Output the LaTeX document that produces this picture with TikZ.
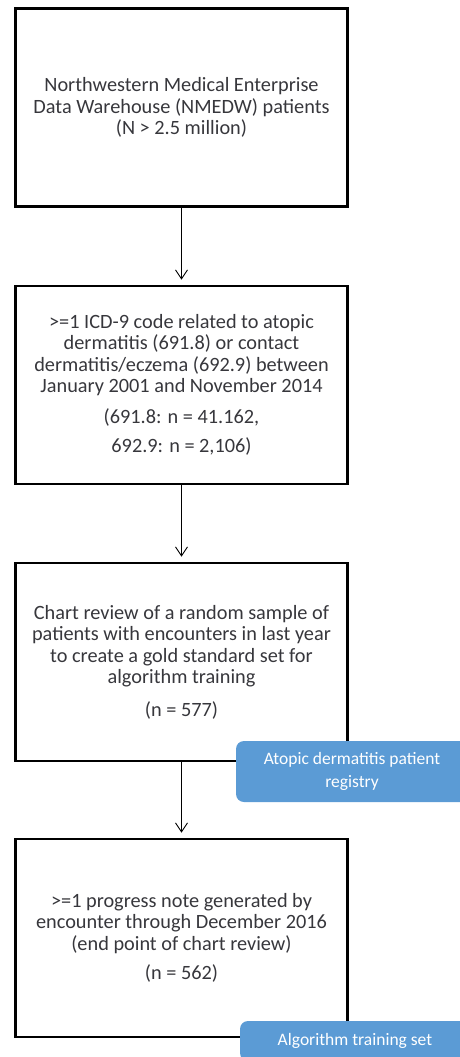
\documentclass[tikz,border=0pt]{standalone}
\usepackage{fontspec}
\setmainfont{Carlito}
\usepackage{tikz}
\usetikzlibrary{arrows.meta}
\definecolor{txtgray}{RGB}{55,55,60}
\definecolor{calloutblue}{RGB}{91,155,213}

\begin{document}
\begin{tikzpicture}[x=1pt,y=-1pt,
    stagebox/.style={draw=black, line width=2.7pt, minimum width=332pt, minimum height=198pt,
        align=center, text=txtgray, font=\fontsize{20.3}{21.5}\selectfont, inner sep=0pt},
    callout/.style={fill=calloutblue, rounded corners=8pt, align=center, text=white,
        font=\fontsize{17.5}{23}\selectfont, inner sep=0pt},
    flow/.style={-{Straight Barb[length=9pt,width=12pt]}, line width=0.9pt, shorten >=5pt}]
    \useasboundingbox (0,0) rectangle (459,1057);

    \node[stagebox] (nmedw) at (181.5,107.5) {Northwestern Medical Enterprise\\Data Warehouse (NMEDW) patients\\(N > 2.5 million)};
    \node[stagebox] (icd) at (181.5,385) {>=1 ICD-9 code related to atopic\\dermatitis (691.8) or contact\\dermatitis/eczema (692.9) between\\January 2001 and November 2014\\[9pt](691.8: n = 41.162,\\[8pt]692.9: n = 2,106)};
    \node[stagebox] (review) at (181.5,662) {Chart review of a random sample of\\patients with encounters in last year\\to create a gold standard set for\\algorithm training\\[11pt](n = 577)};
    \node[stagebox] (progress) at (181.5,938) {>=1 progress note generated by\\encounter through December 2016\\(end point of chart review)\\[8pt](n = 562)};

    \draw[flow] (nmedw) -- (icd);
    \draw[flow] (icd) -- (review);
    \draw[flow] (review) -- (progress);

    \node[callout, minimum width=232pt, minimum height=61pt] (registry) at (352,771.5) {Atopic dermatitis patient\\registry};
    \node[callout, minimum width=230pt, minimum height=40pt] (trainset) at (355,1041) {Algorithm training set};
\end{tikzpicture}
\end{document}
